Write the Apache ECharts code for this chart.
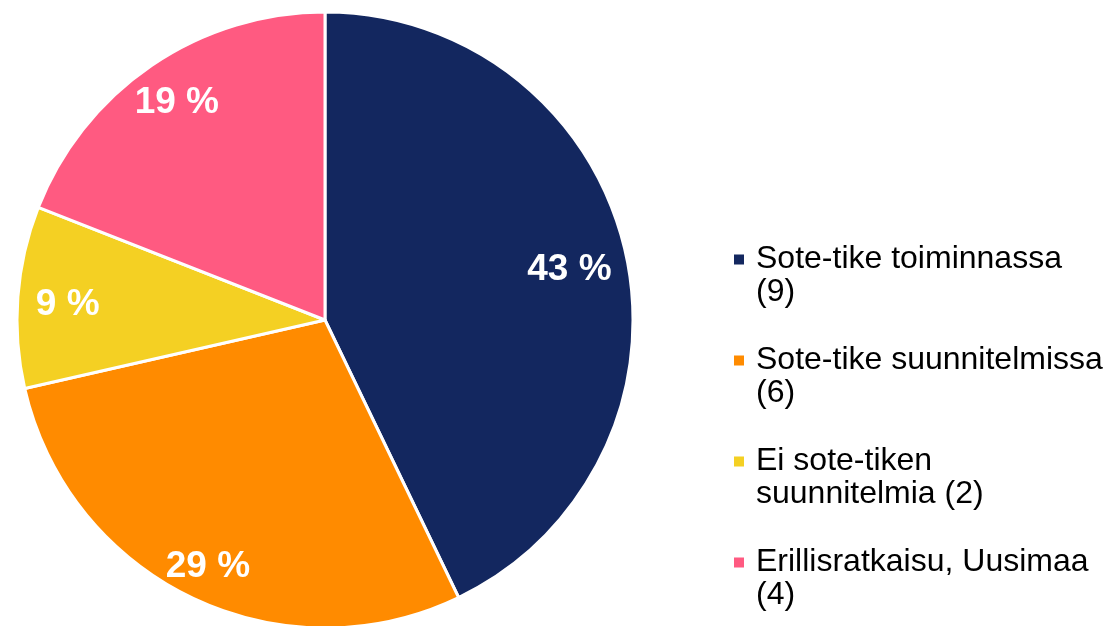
<!DOCTYPE html>
<html>
<head>
<meta charset="utf-8">
<script src="https://cdn.jsdelivr.net/npm/echarts@6/dist/echarts.min.js"></script>
<style>
  html, body { margin: 0; padding: 0; background: #fff; }
  #chart { width: 1105px; height: 626px; }
</style>
</head>
<body>
<div id="chart"></div>
<script>
// data
var names = [
  "Sote-tike toiminnassa\n(9)",
  "Sote-tike suunnitelmissa\n(6)",
  "Ei sote-tiken\nsuunnitelmia (2)",
  "Erillisratkaisu, Uusimaa\n(4)"
];
var counts = [9, 6, 2, 4];
var colors = ["#13275f", "#ff8b00", "#f4d023", "#ff5a81"];

// small label nudges (the original places them a bit unevenly)
var labelNudge = [[-12, 8], [-3, 10], [5, 4], [0, 0]];

var pieData = names.map(function (n, i) {
  return { name: n, value: counts[i] };
});
var labelData = names.map(function (n, i) {
  return { name: n, value: counts[i], label: { offset: labelNudge[i] } };
});

// square sits at the top of a taller (empty) box so it lines up with the first text line
var legendIcon = "path://M0,0H10V10H0Z M0,43L0,43Z";

var chart = echarts.init(document.getElementById("chart"));

chart.setOption({
  animation: false,
  color: colors,
  legend: {
    orient: "vertical",
    left: 734,
    top: 243,
    padding: 0,
    icon: legendIcon,
    itemWidth: 10,
    itemHeight: 43,
    itemGap: 35,
    selectedMode: false,
    itemStyle: { borderWidth: 0 },
    textStyle: {
      fontFamily: "Liberation Sans, Arial",
      fontSize: 32,
      lineHeight: 33,
      color: "#000",
      padding: [0, 0, 0, 7]
    },
    data: names
  },
  series: [
    {
      // the slices
      type: "pie",
      center: [325, 320],
      radius: [0, 308],
      startAngle: 90,
      clockwise: true,
      silent: true,
      label: { show: false },
      labelLine: { show: false },
      itemStyle: { borderColor: "#fff", borderWidth: 3 },
      data: pieData
    },
    {
      // invisible pie only used to place the percent labels further out
      type: "pie",
      center: [325, 320],
      radius: [0, 520],
      startAngle: 90,
      clockwise: true,
      silent: true,
      percentPrecision: 0,
      itemStyle: { color: "rgba(0,0,0,0)" },
      label: {
        show: true,
        position: "inside",
        formatter: "{d} %",
        color: "#fff",
        fontFamily: "Liberation Sans, Arial",
        fontWeight: "bold",
        fontSize: 37
      },
      labelLine: { show: false },
      data: labelData
    }
  ]
});
</script>
</body>
</html>
